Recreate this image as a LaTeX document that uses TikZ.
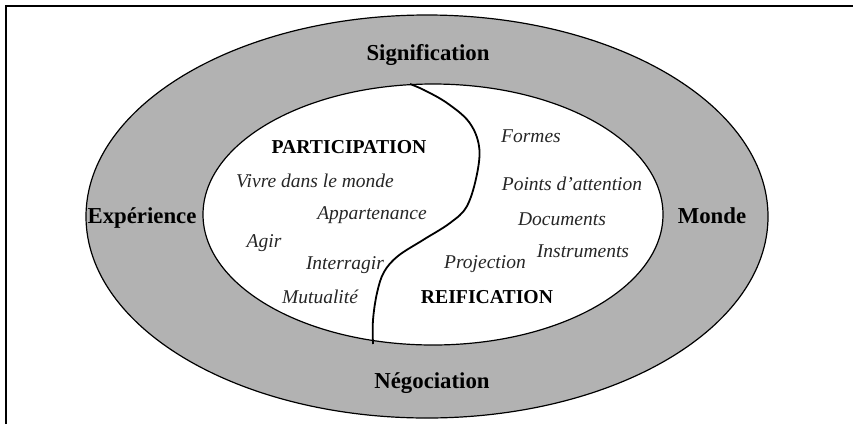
\documentclass[tikz,border=0pt]{standalone}
\usepackage{fontspec}
\setmainfont{Liberation Serif}
\definecolor{ringgrey}{RGB}{178,178,178}
\begin{document}
\begin{tikzpicture}[x=1pt,y=-1pt,
  outerlbl/.style={font=\fontsize{22.8}{26}\selectfont\bfseries, anchor=base, inner sep=0pt},
  capslbl/.style={font=\fontsize{19.7}{23}\selectfont\bfseries, anchor=base, inner sep=0pt},
  itlbl/.style={font=\fontsize{19.5}{23}\selectfont\itshape, anchor=base, inner sep=0pt,text=black!85}]
\useasboundingbox (0,0) rectangle (853,424);
% frame
\draw[line width=1.6pt] (6,424) -- (6,6) -- (853,6);
% rings
\draw[fill=ringgrey, line width=1.2pt] (427,216.5) ellipse [x radius=341, y radius=201.5];
\draw[fill=white, line width=1.2pt] (433,214.5) ellipse [x radius=230, y radius=130.5];
% dividing line
\coordinate (ctop) at (410,84);
\coordinate (cbot) at (373,344);
\draw[line width=1.8pt, line join=round] plot[smooth, tension=0.6] coordinates {
 (ctop) (424,90) (447,103) (469,122) (479,146) (477,174) (467,206) (450,223)
 (423,240) (398,256) (384,272) (377,293) (373,320) (cbot)};
% outer labels
\node[outerlbl] (sig) at (428,60) {Signification};
\node[outerlbl] (exp) at (142,223) {Expérience};
\node[outerlbl] (mon) at (712,223) {Monde};
\node[outerlbl] (neg) at (432,388) {Négociation};
% participation side
\node[capslbl] (part) at (349,153) {PARTICIPATION};
\node[itlbl] (vivre) at (315,187) {Vivre dans le monde};
\node[itlbl] (app) at (372,219) {Appartenance};
\node[itlbl] (agir) at (264,247) {Agir};
\node[itlbl] (inter) at (345,269) {Interragir};
\node[itlbl] (mutu) at (320,303) {Mutualité};
% reification side
\node[itlbl] (formes) at (531,142) {Formes};
\node[itlbl] (points) at (572,190) {Points d’attention};
\node[itlbl] (docs) at (562,225) {Documents};
\node[itlbl] (instr) at (583,257) {Instruments};
\node[itlbl] (proj) at (485,268) {Projection};
\node[capslbl] (reif) at (487,303) {REIFICATION};
\end{tikzpicture}
\end{document}
